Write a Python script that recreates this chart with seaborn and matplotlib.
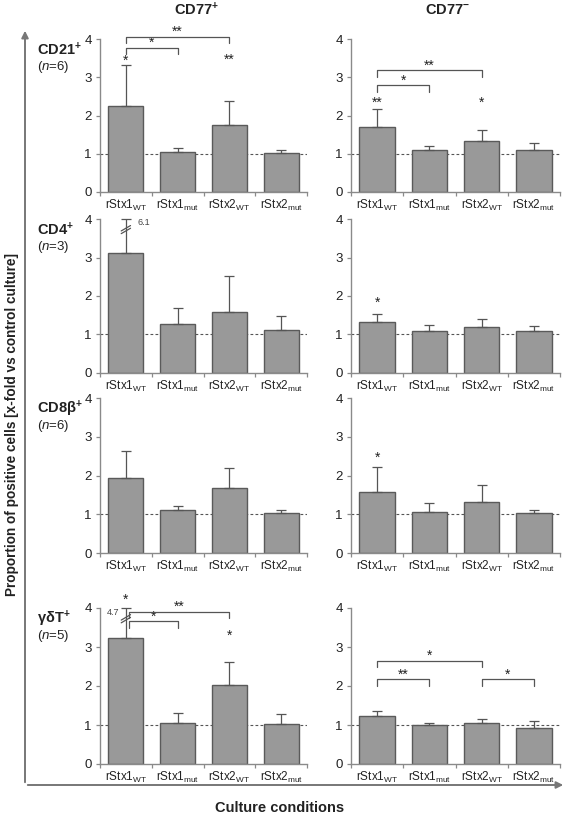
import numpy as np
import pandas as pd
import seaborn as sns
import matplotlib.pyplot as plt
from matplotlib.patches import FancyArrowPatch

sns.set_style('ticks')
plt.rcParams['font.family'] = ['Liberation Sans', 'DejaVu Sans']
plt.rcParams['mathtext.fontset'] = 'custom'
plt.rcParams['mathtext.rm'] = 'Liberation Sans'
plt.rcParams['mathtext.it'] = 'Liberation Sans:italic'
plt.rcParams['mathtext.bf'] = 'Liberation Sans:bold'

# ---- data ----
conditions = ['rStx1_WT', 'rStx1_mut', 'rStx2_WT', 'rStx2_mut']
tick_labels = [r'rStx1$_{\mathrm{WT}}$', r'rStx1$_{\mathrm{mut}}$',
               r'rStx2$_{\mathrm{WT}}$', r'rStx2$_{\mathrm{mut}}$']
markers = ['CD21', 'CD4', r'CD8\beta', r'\gamma\delta T']
n_donors = [6, 3, 6, 5]

# CD77+ cells: mean and upper SD
pos_mean = [[2.26, 1.05, 1.74, 1.01],
            [3.12, 1.27, 1.58, 1.12],
            [1.93, 1.12, 1.68, 1.045],
            [3.22, 1.04, 2.03, 1.02]]
pos_err = [[1.05, 0.11, 0.65, 0.09],
           [2.98, 0.42, 0.95, 0.35],
           [0.69, 0.10, 0.51, 0.055],
           [1.48, 0.27, 0.58, 0.27]]
# CD77- cells
neg_mean = [[1.71, 1.085, 1.33, 1.085],
            [1.32, 1.09, 1.19, 1.09],
            [1.58, 1.06, 1.31, 1.02],
            [1.22, 0.99, 1.04, 0.92]]
neg_err = [[0.45, 0.13, 0.29, 0.185],
           [0.20, 0.16, 0.20, 0.14],
           [0.64, 0.22, 0.45, 0.08],
           [0.13, 0.06, 0.11, 0.17]]

# significance vs control: (bar index, height, label)
pos_stars = [[(0, 3.44, '*'), (2, 3.45, '**')], [], [], [(0, 4.2, '*'), (2, 3.29, '*')]]
neg_stars = [[(0, 2.32, '**'), (2, 2.33, '*')], [(0, 1.82, '*')], [(0, 2.47, '*')], []]
# pairwise brackets: (from, to, height, label)
pos_brackets = [[(0, 1, 3.77, '*'), (0, 2, 4.06, '**')], [], [],
                [(0, 1, 3.66, '*'), (0, 2, 3.91, '**')]]
neg_brackets = [[(0, 1, 2.79, '*'), (0, 2, 3.18, '**')], [], [],
                [(0, 1, 2.18, '**'), (0, 2, 2.65, '*'), (2, 3, 2.18, '*')]]

YMAX = 4
bar_color = '#999999'
edge_color = '#5a5a5a'
axis_color = '#8a8a8a'
text_color = '#222222'

fig = plt.figure(figsize=(5.67, 8.19), dpi=100)

W, H = 567, 819
col_x = [(100, 207), (351, 209)]
row_y = [(39, 192), (219, 373), (398, 553), (608, 764)]


def draw_panel(ax, means, errs, stars, brackets):
    df = pd.DataFrame({'condition': conditions, 'value': means})
    ax.axhline(1, color='#555555', lw=0.8, ls=(0, (2.5, 2)), zorder=0.5)
    sns.barplot(data=df, x='condition', y='value', ax=ax, color=bar_color,
                edgecolor=edge_color, linewidth=1.0, width=0.68,
                errorbar=None, saturation=1, zorder=2)
    means = np.array(means)
    tops = means + np.array(errs)
    shown = np.minimum(tops, YMAX) - means
    ax.errorbar(np.arange(4), means, yerr=[np.zeros(4), shown], fmt='none',
                ecolor='#555555', elinewidth=0.9, capsize=3.5, capthick=0.9,
                zorder=3, clip_on=False)
    # broken error bars
    for i in range(4):
        if tops[i] > YMAX:
            ax.plot([i - 0.09, i + 0.09], [3.62, 3.76], color='#555555',
                    lw=0.9, zorder=4, clip_on=False)
            ax.plot([i - 0.09, i + 0.09], [3.69, 3.83], color='#555555',
                    lw=0.9, zorder=4, clip_on=False)
            if i == 0 and means[i] < 3.15:
                ax.text(i + 0.22, 3.92, f'{tops[i]:.1f}', fontsize=6.5,
                        color='#444444', ha='left', va='center')
            else:
                ax.text(i - 0.12, 3.88, f'{tops[i]:.1f}', fontsize=6.5,
                        color='#444444', ha='right', va='center')
    for i, y, lab in stars:
        ax.text(i, y, lab, ha='center', va='center', fontsize=10,
                color=text_color, clip_on=False)
    for a, b, y, lab in brackets:
        x0 = a + (0.06 if (a == 0 and tops[0] > YMAX) else 0)
        ax.plot([x0, x0, b, b], [y - 0.17, y, y, y - 0.17], color='#555555',
                lw=0.9, clip_on=False, zorder=3)
        ax.text((x0 + b) / 2, y + 0.12, lab, ha='center', va='center',
                fontsize=10, color=text_color, clip_on=False)

    ax.set_ylim(0, YMAX)
    ax.set_xlim(-0.5, 3.5)
    ax.set_yticks(range(5))
    ax.set_xticks(range(4))
    ax.set_xticklabels(tick_labels, fontsize=8.5, color=text_color)
    ax.set_xticks([-0.5, 0.5, 1.5, 2.5, 3.5], minor=True)
    ax.tick_params(axis='x', which='major', length=0, pad=4)
    ax.tick_params(axis='x', which='minor', length=3, color=axis_color, width=0.9)
    ax.tick_params(axis='y', length=3, color=axis_color, width=0.9,
                   labelsize=9.5, labelcolor=text_color, pad=3)
    ax.set_xlabel('')
    ax.set_ylabel('')
    sns.despine(ax=ax)
    for s in ('left', 'bottom'):
        ax.spines[s].set_color(axis_color)
        ax.spines[s].set_linewidth(1.0)


for r in range(4):
    top, bot = row_y[r]
    for c in range(2):
        x0, w = col_x[c]
        ax = fig.add_axes([x0 / W, 1 - bot / H, w / W, (bot - top) / H])
        if c == 0:
            draw_panel(ax, pos_mean[r], pos_err[r], pos_stars[r], pos_brackets[r])
        else:
            draw_panel(ax, neg_mean[r], neg_err[r], neg_stars[r], neg_brackets[r])
    fig.text(37 / W, 1 - (top + 11) / H, r'$\mathbf{' + markers[r] + r'^{+}}$',
             fontsize=10.5, ha='left', va='center', color=text_color)
    fig.text(37 / W, 1 - (top + 28) / H, r'($\it{n}$=' + f'{n_donors[r]})',
             fontsize=9.5, ha='left', va='center', color=text_color)

fig.text(197 / W, 1 - 10 / H, r'$\mathbf{CD77^{+}}$', fontsize=10.5,
         ha='center', va='center', color=text_color)
fig.text(448 / W, 1 - 10 / H, r'$\mathbf{CD77^{-}}$', fontsize=10.5,
         ha='center', va='center', color=text_color)

fig.text(12 / W, 1 - 424 / H,
         'Proportion of positive cells [x-fold vs control culture]',
         rotation=90, fontsize=9.8, fontweight='bold', ha='center', va='center',
         color=text_color)
fig.text(280 / W, 1 - 808 / H, 'Culture conditions', fontsize=10.5,
         fontweight='bold', ha='center', va='center', color=text_color)

corner = (25 / W, 1 - 785 / H)
fig.add_artist(FancyArrowPatch(corner, (25 / W, 1 - 28 / H), transform=fig.transFigure,
                               arrowstyle='-|>', mutation_scale=10, lw=1.4,
                               color='#777777'))
fig.add_artist(FancyArrowPatch(corner, (566 / W, 1 - 785 / H), transform=fig.transFigure,
                               arrowstyle='-|>', mutation_scale=10, lw=1.4,
                               color='#777777'))

fig.savefig('out.png', dpi=100)
